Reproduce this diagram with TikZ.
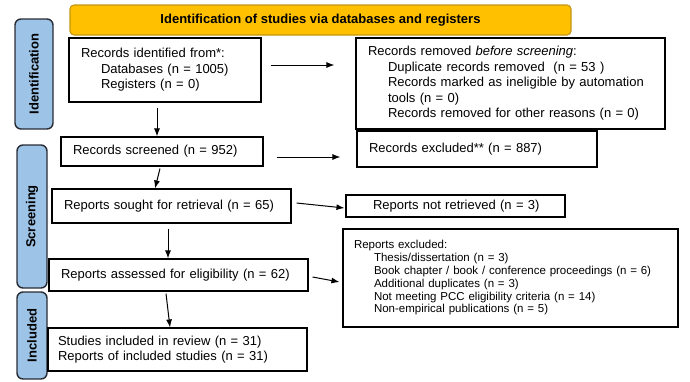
\documentclass[tikz,border=0pt]{standalone}
\usepackage{fontspec}
\setmainfont{Liberation Sans}
\usetikzlibrary{arrows.meta}
\definecolor{hdrfill}{RGB}{255,192,0}
\definecolor{hdrline}{RGB}{196,150,20}
\definecolor{sidefill}{RGB}{157,195,230}
\definecolor{sideline}{RGB}{40,44,52}
\newcommand{\ind}{\hspace*{20pt}}
\tikzset{
  box/.style={draw=black, line width=1.1pt, inner xsep=12pt, inner ysep=0pt, align=left, font=\fontsize{13}{15.5}\selectfont},
  phase/.style={draw=sideline, fill=sidefill, line width=1.4pt, rounded corners=6pt, rotate=90, inner sep=0pt, font=\bfseries\fontsize{13}{15}\selectfont},
  flow/.style={-{Latex[length=8pt,width=6pt]}, line width=1pt}
}

\begin{document}
\begin{tikzpicture}[x=1pt,y=-1pt]
\useasboundingbox (0,0) rectangle (690,381);
\node[draw=hdrline, fill=hdrfill, line width=1.1pt, rounded corners=4pt, minimum width=501pt, minimum height=30pt, font=\bfseries\fontsize{13}{15}\selectfont] (hdr) at (320.5,20) {Identification of studies via databases and registers};
\node[phase, minimum width=110pt, minimum height=38pt] (idl) at (34,74) {Identification};
\node[phase, minimum width=143pt, minimum height=30pt] (scl) at (32,216.5) {Screening};
\node[phase, minimum width=87pt, minimum height=30pt] (incl) at (32,335.5) {Included};
\node[box, text width=168pt, minimum height=64pt] (ident) at (165,70) {Records identified from*:\\ \ind Databases (n = 1005)\\ \ind Registers (n = 0)};
\node[box, text width=285pt, minimum height=91pt] (remov) at (510.5,83.5) {Records removed \textit{before screening}:\\ \ind Duplicate records removed\ \ (n = 53 )\\ \ind Records marked as ineligible by automation\\ \ind tools (n = 0)\\ \ind Records removed for other reasons (n = 0)};
\node[box, text width=178pt, minimum height=29pt] (scrn) at (162,151.5) {Records screened (n = 952)};
\node[box, text width=216pt, minimum height=36pt] (excl) at (477,149) {Records excluded** (n = 887)};
\node[box, text width=215pt, minimum height=34pt] (sought) at (171.5,206) {Reports sought for retrieval (n = 65)};
\node[box, text width=195pt, minimum height=22pt] (notret) at (455.5,206) {\hspace*{15pt}Reports not retrieved (n = 3)};
\node[box, text width=235pt, minimum height=32pt] (assess) at (178.5,275) {Reports assessed for eligibility (n = 62)};
\node[box, inner xsep=11pt, text width=313pt, minimum height=98pt, font=\fontsize{11.5}{12.8}\selectfont] (repexc) at (510.5,278) {Reports excluded:\\ \ind Thesis/dissertation (n = 3)\\ \ind Book chapter / book / conference proceedings (n = 6)\\ \ind Additional duplicates (n = 3)\\ \ind Not meeting PCC eligibility criteria (n = 14)\\ \ind Non-empirical publications (n = 5)};
\node[box, inner xsep=10pt, text width=239pt, minimum height=43pt] (studies) at (177.5,349.5) {Studies included in review (n = 31)\\ Reports of included studies (n = 31)};
\draw[flow] ([shift={(9,-5)}]ident.east) -- ([shift={(-21,-18.5)}]remov.west);
\draw[flow] ([shift={(-8,5)}]ident.south) -- ([shift={(-5,0)}]scrn.north);
\draw[flow] ([shift={(13,5.5)}]scrn.east) -- ([shift={(-16,8)}]excl.west);
\draw[flow] ([shift={(-2,2)}]scrn.south) -- ([shift={(-16.5,0)}]sought.north);
\draw[flow] ([shift={(5,-3)}]sought.east) -- ([shift={(-1,2)}]notret.west);
\draw[flow] ([shift={(-3.5,5)}]sought.south) -- ([shift={(-10.5,0)}]assess.north);
\draw[flow] ([shift={(4,2)}]assess.east) -- ([shift={(-3,4)}]repexc.west);
\draw[flow] ([shift={(-12.5,2)}]assess.south) -- ([shift={(-7.5,0)}]studies.north);
\end{tikzpicture}
\end{document}
